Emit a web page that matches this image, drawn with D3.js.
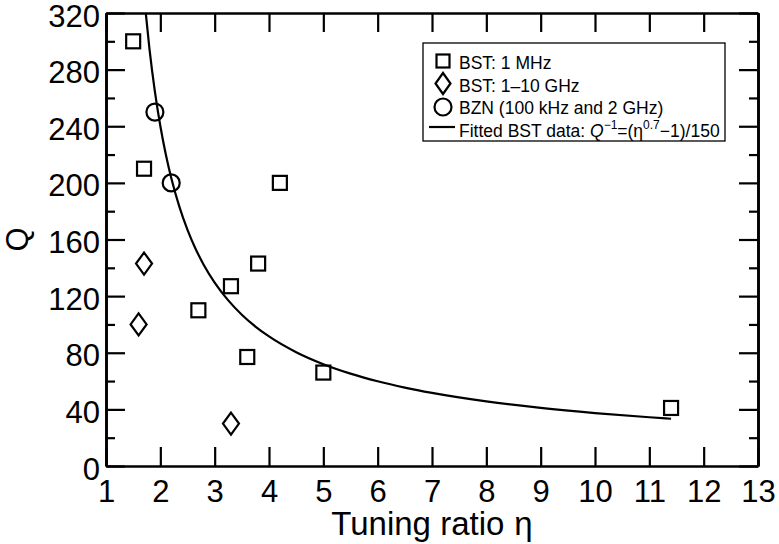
<!DOCTYPE html>
<html>
<head>
<meta charset="utf-8">
<script src="https://cdn.jsdelivr.net/npm/d3@7"></script>
<style>
  html, body { margin: 0; padding: 0; background: #fff; }
  svg { display: block; font-family: "Liberation Sans", Arial, Helvetica, sans-serif; }
</style>
</head>
<body>
<svg id="chart" width="779" height="544"></svg>
<script>
// Measured quality factor Q against tuning ratio η for tunable dielectrics
const bst1MHzEta = [1.5, 1.7, 2.7, 3.3, 3.6, 3.8, 4.2, 5.0, 11.4];
const bst1MHzQ   = [300, 210, 110, 127, 77, 143, 200, 66, 41];

const bstGHzEta = [1.6, 1.7, 3.3];
const bstGHzQ   = [100, 143, 30];

const bznEta = [1.9, 2.2];
const bznQ   = [250, 200];

// Fit to the BST data: Q^-1 = (η^0.7 − 1)/150, evaluated at these η values
const fitExponent = 0.7;
const fitScale = 150;
const fitEta = [1.73, 1.8, 1.9, 2.0, 2.1, 2.2, 2.35, 2.5, 2.65, 2.8, 3.0, 3.25, 3.5, 3.75,
                4.0, 4.5, 5.0, 5.5, 6.0, 6.5, 7.0, 8.0, 9.0, 10.0, 11.0, 11.4];

const xTicks = [1, 2, 3, 4, 5, 6, 7, 8, 9, 10, 11, 12, 13];
const yTicks = [0, 40, 80, 120, 160, 200, 240, 280, 320];
const yMinorTicks = [20, 60, 100, 140, 180, 220, 260, 300];

const legendLabels = ["BST: 1 MHz", "BST: 1\u201310 GHz", "BZN (100 kHz and 2 GHz)"];

const svg = d3.select("#chart");
const margin = { left: 106, right: 21, top: 13, bottom: 78 };
const W = 779, H = 544;
const x = d3.scaleLinear().domain([1, 13]).range([margin.left, W - margin.right]);
const y = d3.scaleLinear().domain([0, 320]).range([H - margin.bottom, margin.top]);

svg.append("defs").append("clipPath").attr("id", "plotClip")
  .append("rect")
  .attr("x", x(1)).attr("y", y(320))
  .attr("width", x(13) - x(1)).attr("height", y(0) - y(320));

// ---- axes (ticks pointing inwards on all four sides) ----
function styleAxis(g, showLabels) {
  g.select(".domain").attr("stroke", "#000").attr("stroke-width", 2.6);
  g.selectAll(".tick line").attr("stroke", "#000").attr("stroke-width", 2.2);
  g.selectAll(".tick text")
    .attr("fill", "#000")
    .style("font-size", "31px")
    .style("display", showLabels ? null : "none");
}

// minor ticks first so major ticks sit on top
svg.append("g").attr("transform", `translate(${x(1)},0)`)
  .call(d3.axisLeft(y).tickValues(yMinorTicks).tickSizeInner(-9).tickSizeOuter(0).tickFormat(""))
  .call(g => styleAxis(g, false));
svg.append("g").attr("transform", `translate(${x(13)},0)`)
  .call(d3.axisRight(y).tickValues(yMinorTicks).tickSizeInner(-9).tickSizeOuter(0).tickFormat(""))
  .call(g => styleAxis(g, false));

svg.append("g").attr("transform", `translate(0,${y(0)})`)
  .call(d3.axisBottom(x).tickValues(xTicks).tickSizeInner(-19).tickSizeOuter(0).tickPadding(14).tickFormat(d3.format("d")))
  .call(g => styleAxis(g, true));
svg.append("g").attr("transform", `translate(0,${y(320)})`)
  .call(d3.axisTop(x).tickValues(xTicks).tickSizeInner(-19).tickSizeOuter(0).tickFormat(""))
  .call(g => styleAxis(g, false));
svg.append("g").attr("transform", `translate(${x(1)},0)`)
  .call(d3.axisLeft(y).tickValues(yTicks).tickSizeInner(-19).tickSizeOuter(0).tickPadding(6).tickFormat(d3.format("d")))
  .call(g => styleAxis(g, true))
  .call(g => g.selectAll(".tick text").attr("dy", "0.42em"));
svg.append("g").attr("transform", `translate(${x(13)},0)`)
  .call(d3.axisRight(y).tickValues(yTicks).tickSizeInner(-19).tickSizeOuter(0).tickFormat(""))
  .call(g => styleAxis(g, false));

// ---- axis titles ----
const xTitle = svg.append("text")
  .attr("x", (x(1) + x(13)) / 2).attr("y", 535)
  .attr("text-anchor", "middle")
  .style("font-size", "33px");
xTitle.append("tspan").text("Tuning ratio");
xTitle.append("tspan").attr("dx", 10).text("\u03b7");

svg.append("text")
  .attr("transform", `translate(28,${(y(0) + y(320)) / 2}) rotate(-90)`)
  .attr("text-anchor", "middle")
  .style("font-size", "31px")
  .text("Q");

// ---- fitted curve ----
const fitPoints = fitEta.map(e => [e, fitScale / (Math.pow(e, fitExponent) - 1)]);
svg.append("path")
  .datum(fitPoints)
  .attr("clip-path", "url(#plotClip)")
  .attr("fill", "none").attr("stroke", "#000").attr("stroke-width", 2.2)
  .attr("d", d3.line().x(d => x(d[0])).y(d => y(d[1])).curve(d3.curveMonotoneX));

// ---- markers ----
const sq = 14;          // square side
const dW = 8, dH = 11;  // diamond half-width / half-height
const cR = 8.5;         // circle radius

function diamondPath(cx, cy, hw, hh) {
  return `M${cx},${cy - hh}L${cx + hw},${cy}L${cx},${cy + hh}L${cx - hw},${cy}Z`;
}

const markers = svg.append("g").attr("fill", "none").attr("stroke", "#000").attr("stroke-width", 2.2);

markers.selectAll("rect.bst1")
  .data(d3.zip(bst1MHzEta, bst1MHzQ))
  .join("rect").attr("class", "bst1")
  .attr("x", d => x(d[0]) - sq / 2).attr("y", d => y(d[1]) - sq / 2)
  .attr("width", sq).attr("height", sq);

markers.selectAll("path.bstg")
  .data(d3.zip(bstGHzEta, bstGHzQ))
  .join("path").attr("class", "bstg")
  .attr("d", d => diamondPath(x(d[0]), y(d[1]), dW, dH));

markers.selectAll("circle.bzn")
  .data(d3.zip(bznEta, bznQ))
  .join("circle").attr("class", "bzn")
  .attr("cx", d => x(d[0])).attr("cy", d => y(d[1])).attr("r", cR);

// ---- legend ----
const legend = svg.append("g").attr("transform", "translate(423,43)");
legend.append("rect")
  .attr("x", 0).attr("y", 0).attr("width", 302).attr("height", 98)
  .attr("fill", "#fff").attr("stroke", "#000").attr("stroke-width", 1.3);

const rowBase = [26, 48.5, 71, 93.5];
const symX = 20;
const textX = 36;

legend.append("rect")
  .attr("x", symX - 6.5).attr("y", rowBase[0] - 14.5).attr("width", 13).attr("height", 13)
  .attr("fill", "none").attr("stroke", "#000").attr("stroke-width", 2.2);
legend.append("path")
  .attr("d", diamondPath(symX, rowBase[1] - 8, 7.5, 10.5))
  .attr("fill", "none").attr("stroke", "#000").attr("stroke-width", 2.2);
legend.append("circle")
  .attr("cx", symX).attr("cy", rowBase[2] - 7).attr("r", 8.5)
  .attr("fill", "none").attr("stroke", "#000").attr("stroke-width", 2.2);
legend.append("line")
  .attr("x1", 6).attr("x2", 32).attr("y1", rowBase[3] - 9.5).attr("y2", rowBase[3] - 9.5)
  .attr("stroke", "#000").attr("stroke-width", 2.2);

legendLabels.forEach((t, i) => {
  legend.append("text").attr("x", textX).attr("y", rowBase[i])
    .style("font-size", "17.5px").text(t);
});

const fitLabel = legend.append("text").attr("x", textX).attr("y", rowBase[3])
  .style("font-size", "17.5px");
fitLabel.append("tspan").text("Fitted BST data: ");
fitLabel.append("tspan").style("font-style", "italic").text("Q");
fitLabel.append("tspan").attr("dy", -8).style("font-size", "12px").text("\u22121");
fitLabel.append("tspan").attr("dy", 8).text("=(\u03b7");
fitLabel.append("tspan").attr("dy", -8).style("font-size", "12px").text("0.7");
fitLabel.append("tspan").attr("dy", 8).text("\u22121)/150");
</script>
</body>
</html>
